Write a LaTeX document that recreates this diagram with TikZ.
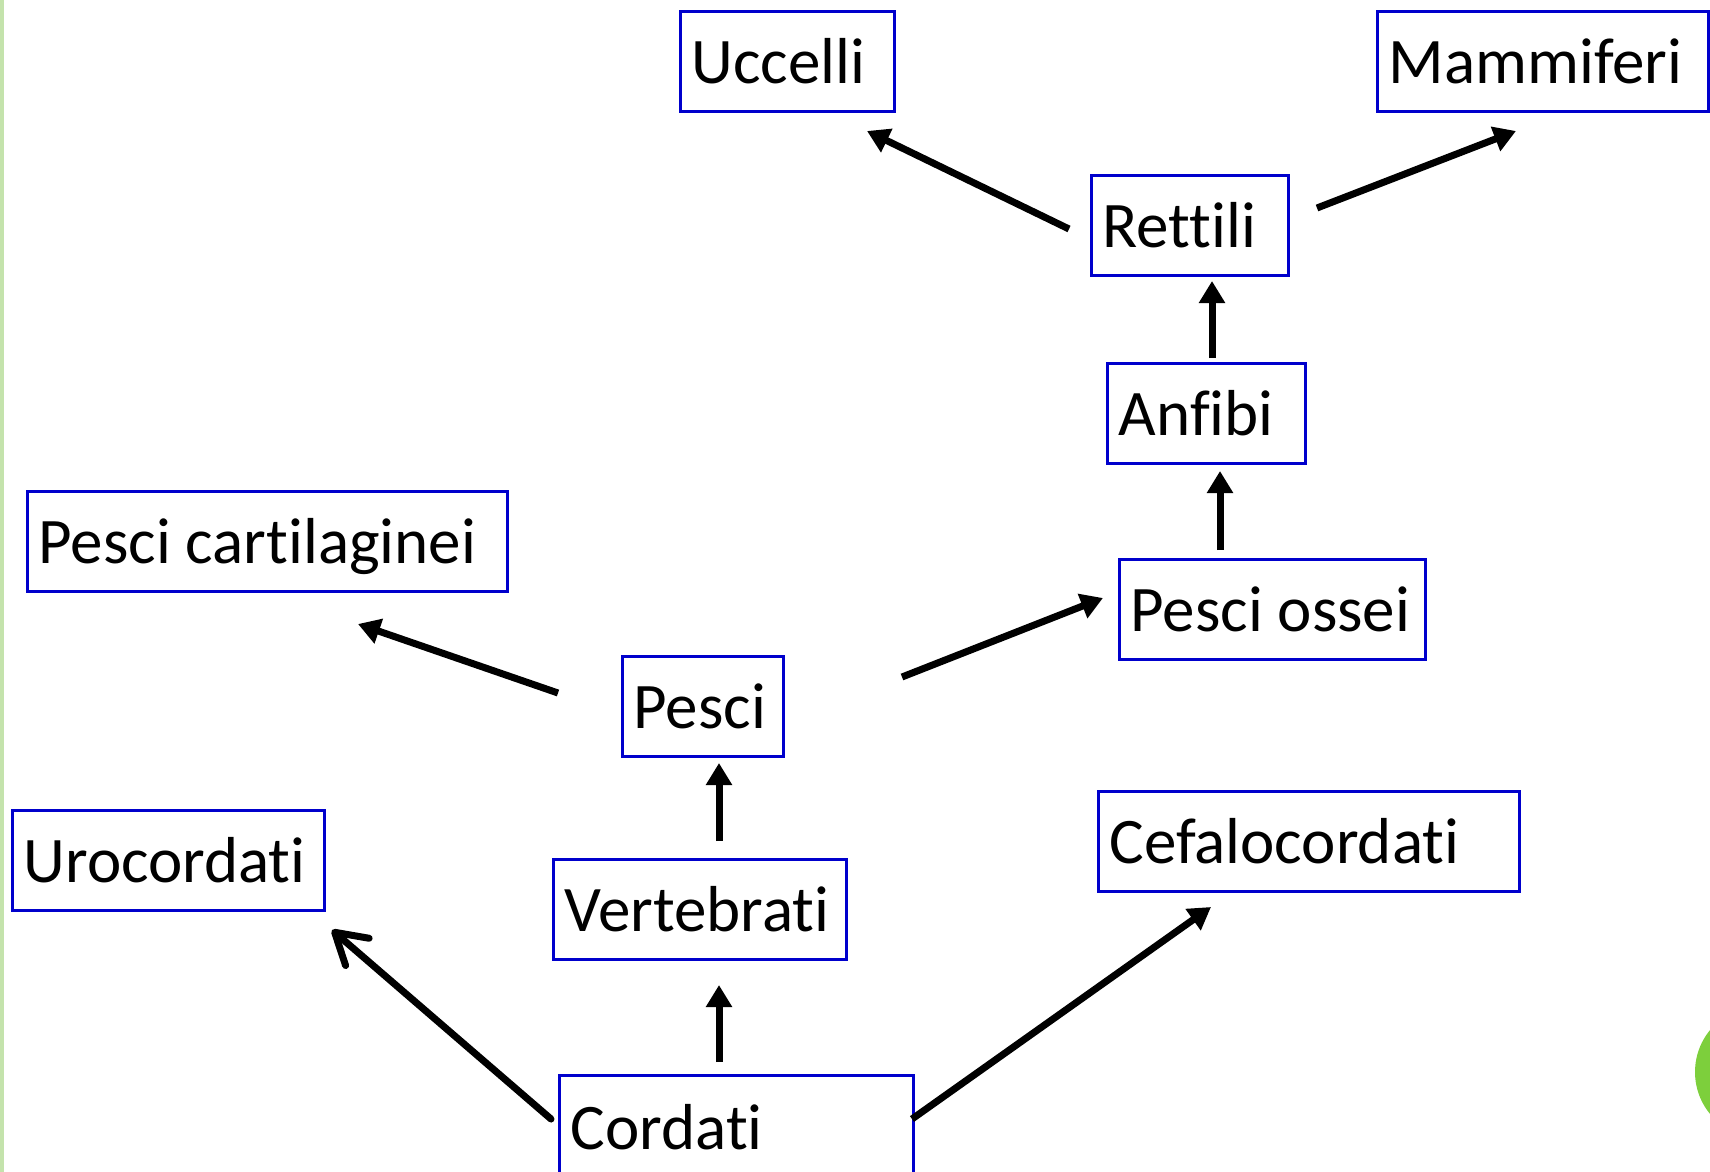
\documentclass[tikz,border=0pt]{standalone}
\usepackage{fontspec}
\setmainfont{Carlito}[Ligatures=NoCommon]
\usetikzlibrary{arrows.meta}
\definecolor{boxblue}{HTML}{0000CC}
\definecolor{barGreen}{HTML}{C4E3AC}
\definecolor{dotGreen}{HTML}{7DCF3C}
\newcommand{\lbx}[2]{\makebox[#1][l]{#2}}
\begin{document}
\begin{tikzpicture}[x=1pt,y=-1pt,
  box/.style={draw=boxblue, line width=3.3pt, anchor=north west, inner xsep=11pt, inner ysep=0pt,
    minimum height=100pt, text height=50pt, text depth=6pt,
    font=\fontsize{65}{78}\selectfont},
  arr/.style={line width=7pt, -{Triangle[length=22pt,width=25pt]}},
  barb/.style={line width=7pt, line cap=round, -{Straight Barb[length=30pt,width=36pt,line cap=round,line join=round]}}]
\useasboundingbox (0,0) rectangle (1710,1172);
\fill[white] (0,0) rectangle (1710,1172);
\fill[barGreen] (0,0) rectangle (4,1172);
\fill[dotGreen] (1761,1072) circle (66);

\node[box] (ucc) at (679,10) {\lbx{192pt}{Uccelli}};
\node[box] (mam) at (1376,10) {\lbx{309pt}{Mammiferi}};
\node[box] (ret) at (1090,174) {\lbx{175pt}{Rettili}};
\node[box] (anf) at (1106,362) {\lbx{176pt}{Anfibi}};
\node[box] (pcart) at (26,490) {\lbx{458pt}{Pesci cartilaginei}};
\node[box] (poss) at (1118,558) {\lbx{284pt}{Pesci ossei}};
\node[box] (pes) at (621,655) {\lbx{139pt}{Pesci}};
\node[box] (uro) at (11,809) {\lbx{290pt}{Urocordati}};
\node[box] (cef) at (1097,790) {\lbx{399pt}{Cefalocordati}};
\node[box] (ver) at (552,858) {\lbx{271pt}{Vertebrati}};
\node[box, minimum height=104pt] (cor) at (558,1074) {\lbx{332pt}{Cordati}};

\coordinate (a1s) at (1069,229); \coordinate (a1e) at (867,131);
\coordinate (a2s) at (1317,208); \coordinate (a2e) at (1516,131);
\coordinate (a3s) at (1212,358); \coordinate (a3e) at (1212,281);
\coordinate (a4s) at (1220,550); \coordinate (a4e) at (1220,471);
\coordinate (a5s) at (902,677);  \coordinate (a5e) at (1103,598);
\coordinate (a6s) at (558,693);  \coordinate (a6e) at (358,624);
\coordinate (a7s) at (719,841);  \coordinate (a7e) at (719,763);
\coordinate (a8s) at (719,1062); \coordinate (a8e) at (719,985);
\coordinate (a9s) at (551,1119); \coordinate (a9e) at (332,930);
\coordinate (a10s) at (912,1119); \coordinate (a10e) at (1211,907);

\draw[arr] (a1s) -- (a1e);
\draw[arr] (a2s) -- (a2e);
\draw[arr] (a3s) -- (a3e);
\draw[arr] (a4s) -- (a4e);
\draw[arr] (a5s) -- (a5e);
\draw[arr] (a6s) -- (a6e);
\draw[arr] (a7s) -- (a7e);
\draw[arr] (a8s) -- (a8e);
\draw[barb] (a9s) -- (a9e);
\draw[arr] (a10s) -- (a10e);
\end{tikzpicture}
\end{document}
